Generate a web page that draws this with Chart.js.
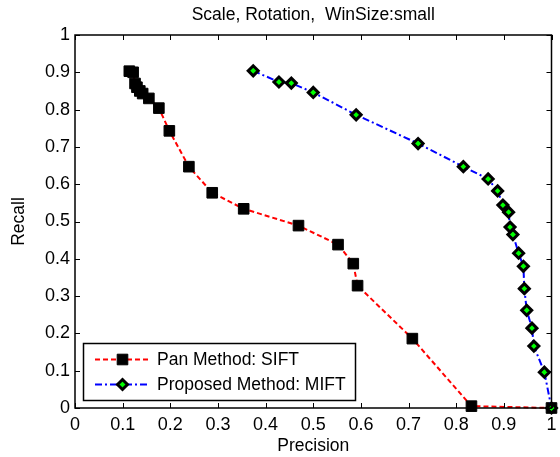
<!DOCTYPE html>
<html>
<head>
<meta charset="utf-8">
<script src="https://cdn.jsdelivr.net/npm/chart.js@4"></script>
<style>
  html, body { margin: 0; padding: 0; background: #fff; }
  #wrap { width: 560px; height: 457px; }
</style>
</head>
<body>
<div id="wrap"><canvas id="prChart" width="560" height="457"></canvas></div>
<script>
// Values
const panPrecision = [0.114, 0.122, 0.126, 0.13, 0.136, 0.142, 0.155, 0.176, 0.198, 0.239, 0.288, 0.354, 0.469, 0.552, 0.584, 0.593, 0.708, 0.832, 1.0];
const panRecall    = [0.903, 0.900, 0.870, 0.860, 0.850, 0.843, 0.830, 0.804, 0.743, 0.647, 0.577, 0.534, 0.489, 0.438, 0.387, 0.328, 0.186, 0.005, 0.0];

const mPrecision = [0.374, 0.428, 0.454, 0.500, 0.590, 0.720, 0.815, 0.867, 0.887, 0.898, 0.910, 0.913, 0.919, 0.931, 0.941, 0.943, 0.948, 0.959, 0.963, 0.985, 1.0];
const mRecall    = [0.904, 0.874, 0.871, 0.846, 0.786, 0.709, 0.647, 0.614, 0.582, 0.544, 0.525, 0.485, 0.465, 0.415, 0.380, 0.320, 0.262, 0.214, 0.166, 0.096, 0.0];

const tickValues = [0, 0.1, 0.2, 0.3, 0.4, 0.5, 0.6, 0.7, 0.8, 0.9, 1];
const seriesNames = ['Pan Method: SIFT', 'Proposed Method: MIFT'];
const chartTitle = 'Scale, Rotation,  WinSize:small';

const FAMILY = '"Liberation Sans", Arial, sans-serif';
const FONT = '17.5px ' + FAMILY;

function toPoints(xs, ys) {
  return xs.map((x, i) => ({ x: x, y: ys[i] }));
}

// box, inward ticks, titles and the legend drawn by hand (matlab look)
const matlabFrame = {
  id: 'matlabFrame',
  afterDraw(chart) {
    const ctx = chart.ctx;
    const a = chart.chartArea;
    const xs = chart.scales.x, ys = chart.scales.y;
    ctx.save();
    ctx.strokeStyle = '#000';
    ctx.lineWidth = 1.5;
    ctx.strokeRect(a.left, a.top, a.right - a.left, a.bottom - a.top);
    ctx.lineWidth = 1;
    ctx.beginPath();
    tickValues.forEach(v => {
      const px = Math.round(xs.getPixelForValue(v)) + 0.5;
      const py = Math.round(ys.getPixelForValue(v)) + 0.5;
      ctx.moveTo(px, a.bottom); ctx.lineTo(px, a.bottom - 5);
      ctx.moveTo(px, a.top); ctx.lineTo(px, a.top + 5);
      ctx.moveTo(a.left, py); ctx.lineTo(a.left + 5, py);
      ctx.moveTo(a.right, py); ctx.lineTo(a.right - 5, py);
    });
    ctx.stroke();

    ctx.fillStyle = '#000';
    ctx.font = FONT;
    ctx.textAlign = 'center';
    ctx.textBaseline = 'middle';
    const cx = (a.left + a.right) / 2;
    ctx.fillText(chartTitle, cx, 15);
    ctx.fillText('Precision', cx, 446);
    ctx.save();
    ctx.translate(19, (a.top + a.bottom) / 2);
    ctx.rotate(-Math.PI / 2);
    ctx.fillText('Recall', 0, 0);
    ctx.restore();

    // legend
    ctx.fillStyle = '#fff';
    ctx.fillRect(83.5, 343.5, 272, 57);
    ctx.lineWidth = 1.5;
    ctx.strokeRect(83.5, 343.5, 272, 57);
    const rows = [359.5, 384.5];
    chart.data.datasets.forEach((ds, i) => {
      const y = rows[i];
      ctx.save();
      ctx.strokeStyle = ds.borderColor;
      ctx.lineWidth = ds.borderWidth;
      ctx.setLineDash(ds.borderDash);
      ctx.beginPath();
      ctx.moveTo(95, y); ctx.lineTo(150, y);
      ctx.stroke();
      ctx.setLineDash([]);
      ctx.fillStyle = ds.pointBackgroundColor;
      ctx.strokeStyle = ds.pointBorderColor;
      ctx.lineWidth = ds.pointBorderWidth;
      Chart.helpers.drawPoint(ctx, {
        pointStyle: ds.pointStyle,
        radius: ds.pointRadius,
        borderWidth: ds.pointBorderWidth
      }, 122.5, y);
      ctx.restore();
      ctx.fillStyle = '#000';
      ctx.textAlign = 'left';
      ctx.fillText(seriesNames[i], 157, y + 1);
    });
    ctx.restore();
  }
};

const chartBox = document.getElementById('prChart');

const prChart = new Chart(chartBox, {
  type: 'scatter',
  data: {
    datasets: [
      {
        label: seriesNames[0],
        data: toPoints(panPrecision, panRecall),
        showLine: true,
        borderColor: '#ff0000',
        borderWidth: 2,
        borderDash: [5, 3],
        pointStyle: 'rect',
        pointRadius: 7.5,
        pointBorderWidth: 1,
        pointBackgroundColor: '#000',
        pointBorderColor: '#000',
        clip: false,
        order: 2
      },
      {
        label: seriesNames[1],
        data: toPoints(mPrecision, mRecall),
        showLine: true,
        borderColor: '#0000ff',
        borderWidth: 2,
        borderDash: [7, 3, 2, 3],
        pointStyle: 'rectRot',
        pointRadius: 5,
        pointBorderWidth: 3,
        pointBackgroundColor: '#00ff00',
        pointBorderColor: '#000',
        clip: false,
        order: 1
      }
    ]
  },
  plugins: [matlabFrame],
  options: {
    responsive: false,
    animation: false,
    events: [],
    layout: { padding: { top: 35, right: 6, left: 0, bottom: 0 } },
    plugins: {
      legend: { display: false },
      tooltip: { enabled: false },
      title: { display: false }
    },
    scales: {
      x: {
        type: 'linear',
        min: 0,
        max: 1,
        grid: { display: false, drawTicks: false },
        border: { display: false },
        afterFit: s => { s.height = 49; s.paddingLeft = 0; s.paddingRight = 0; },
        afterBuildTicks: s => { s.ticks = tickValues.map(v => ({ value: v })); },
        ticks: {
          padding: 6,
          maxRotation: 0,
          autoSkip: false,
          color: '#000',
          font: { family: FAMILY, size: 18 },
          callback: v => String(Number(v.toFixed(1)))
        }
      },
      y: {
        type: 'linear',
        min: 0,
        max: 1,
        grid: { display: false, drawTicks: false },
        border: { display: false },
        afterFit: s => { s.width = 75; s.paddingTop = 0; s.paddingBottom = 0; },
        afterBuildTicks: s => { s.ticks = tickValues.map(v => ({ value: v })); },
        ticks: {
          padding: 5,
          autoSkip: false,
          color: '#000',
          font: { family: FAMILY, size: 18 },
          callback: v => String(Number(v.toFixed(1)))
        }
      }
    }
  }
});
</script>
</body>
</html>
